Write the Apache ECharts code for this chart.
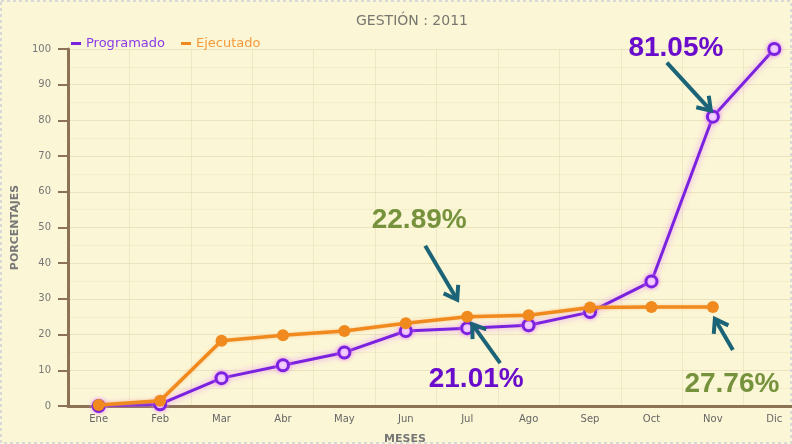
<!DOCTYPE html>
<html>
<head>
<meta charset="utf-8">
<script src="https://cdn.jsdelivr.net/npm/echarts@6/dist/echarts.min.js"></script>
<style>
html,body{margin:0;padding:0;background:#fff;}
#c{width:792px;height:444px;}
</style>
</head>
<body>
<div id="c"></div>
<script>
var meses = ['Ene','Feb','Mar','Abr','May','Jun','Jul','Ago','Sep','Oct','Nov','Dic'];
var programado = [0, 0.5, 7.8, 11.4, 15.0, 21.0, 21.8, 22.6, 26.3, 34.9, 81.05, 100];
var ejecutado = [0.3, 1.5, 18.3, 19.8, 21.0, 23.2, 25.0, 25.4, 27.6, 27.7, 27.76, null];
var yTicks = [0,10,20,30,40,50,60,70,80,90,100];
var notas = [
  {texto:'81.05%', serie:0, idx:10, color:'#6a0ccc', tail:[-46,-54], head:[-2,-6], txt:[-37,-68]},
  {texto:'22.89%', serie:1, idx:6, color:'#76923c', tail:[-42,-71], head:[-10,-17], txt:[-48,-96]},
  {texto:'21.01%', serie:0, idx:6, color:'#6a0ccc', tail:[33,35], head:[5,-4], txt:[9,51]},
  {texto:'27.76%', serie:1, idx:10, color:'#76923c', tail:[20,43], head:[2,12], txt:[19,77]}
];

var chart = echarts.init(document.getElementById('c'));
var option = {
  backgroundColor:'#fbf6d6',
  animation:false,
  title:{text:'GESTIÓN : 2011', left:407, top:9, textAlign:'center',
    textStyle:{fontSize:14, fontWeight:'normal', color:'#77776f', fontFamily:'DejaVu Sans'}},
  legend:{left:66, top:32, itemWidth:10, itemHeight:3, itemGap:16,
    data:[{name:'Programado', icon:'rect', itemStyle:{color:'#7a22dd', borderWidth:0}, textStyle:{color:'#8a3be6'}},
          {name:'Ejecutado', icon:'rect', itemStyle:{color:'#f08a1e', borderWidth:0}, textStyle:{color:'#f59a3c'}}],
    textStyle:{fontSize:13, fontFamily:'DejaVu Sans'}},
  grid:{left:68, width:737, top:49, bottom:38, containLabel:false, outerBoundsMode:'none'},
  xAxis:{type:'category', data:meses, boundaryGap:true,
    axisLine:{lineStyle:{color:'#8c7355', width:3}},
    axisTick:{alignWithLabel:true, length:5, lineStyle:{color:'#8c7355', width:1}},
    axisLabel:{fontSize:10, color:'#666', margin:8, fontFamily:'DejaVu Sans'},
    splitLine:{show:true, interval:0, lineStyle:{color:'rgba(215,205,160,0.35)', width:1}}
  },
  yAxis:{type:'value', min:0, max:100, interval:10,
    name:'PORCENTAJES', nameLocation:'middle', nameGap:46, nameRotate:90,
    nameTextStyle:{fontSize:11, fontWeight:'bold', color:'#777', fontFamily:'DejaVu Sans'},
    axisLine:{show:true, lineStyle:{color:'#8c7355', width:3}},
    axisTick:{show:true, length:10, lineStyle:{color:'#8c7355', width:2}},
    axisLabel:{fontSize:10, color:'#777', margin:17, fontFamily:'DejaVu Sans',
      formatter:function(v){return yTicks.indexOf(v)>=0?String(v):'';}},
    splitLine:{lineStyle:{color:'rgba(215,205,160,0.45)', width:1}},
    minorTick:{show:false, splitNumber:2},
    minorSplitLine:{show:true, lineStyle:{color:'rgba(225,215,170,0.3)'}}
  },
  series:[
    {name:'Programado', type:'line', data:programado, z:3,
      symbol:'circle', symbolSize:11,
      lineStyle:{color:'#7a22dd', width:3, shadowBlur:6, shadowColor:'rgba(230,120,255,0.8)'},
      itemStyle:{color:'#f5e2ff', borderColor:'#7a22dd', borderWidth:3, shadowBlur:4, shadowColor:'rgba(230,120,255,0.8)'}
    },
    {name:'Ejecutado', type:'line', data:ejecutado, z:4,
      symbol:'circle', symbolSize:12,
      lineStyle:{color:'#f08a1e', width:3.5, shadowBlur:3, shadowColor:'rgba(255,190,120,0.7)'},
      itemStyle:{color:'#f08a1e', borderColor:'#f08a1e', borderWidth:0}
    }
  ]
};
chart.setOption(option);

var seriesData = [programado, ejecutado];
var elems = [];
notas.forEach(function(n){
  var p = chart.convertToPixel({seriesIndex:n.serie}, [n.idx, seriesData[n.serie][n.idx]]);
  var tx = p[0]+n.tail[0], ty = p[1]+n.tail[1];
  var hx = p[0]+n.head[0], hy = p[1]+n.head[1];
  var ang = Math.atan2(hy-ty, hx-tx);
  var L = 15, a = 0.6;
  var l1 = [hx - L*Math.cos(ang-a), hy - L*Math.sin(ang-a)];
  var l2 = [hx - L*Math.cos(ang+a), hy - L*Math.sin(ang+a)];
  elems.push({type:'line', z:10, shape:{x1:tx, y1:ty, x2:hx, y2:hy},
    style:{stroke:'#1b6478', lineWidth:4}});
  elems.push({type:'polyline', z:10, shape:{points:[l1,[hx,hy],l2]},
    style:{stroke:'#1b6478', lineWidth:4, fill:null, lineJoin:'miter'}});
  elems.push({type:'text', z:11, x:p[0]+n.txt[0], y:p[1]+n.txt[1],
    style:{text:n.texto, fill:n.color, font:'bold 28px "Liberation Sans", Arial, sans-serif',
      textAlign:'center', textVerticalAlign:'middle'}});
});
elems.push({type:'text', z:5, x:405, y:439,
  style:{text:'MESES', fill:'#777', font:'bold 11px "DejaVu Sans"', textAlign:'center', textVerticalAlign:'middle'}});
elems.push({type:'rect', z:0, shape:{x:1, y:1, width:790, height:442},
  style:{fill:null, stroke:'#d8d8d8', lineWidth:2, lineDash:[3,3]}});
chart.setOption({graphic:elems});
</script>
</body>
</html>
